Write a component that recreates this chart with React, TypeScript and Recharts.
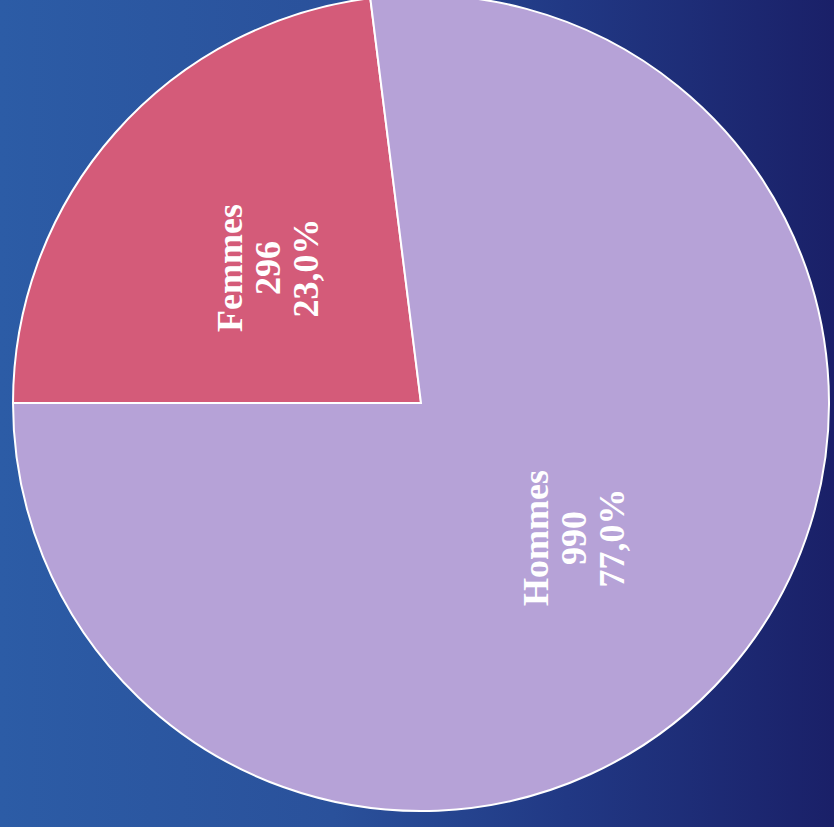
import { PieChart, Pie, Cell } from "recharts";

const categories = ["Femmes", "Hommes"];
const counts = [296, 990];
const percents = ["23,0%", "77,0%"];
const colors = ["#d45b79", "#b6a2d7"];

const data = categories.map((name, i) => ({
  name,
  value: counts[i],
  pct: percents[i],
}));

const RADIAN = Math.PI / 180;

const renderLabel = (props: any) => {
  const { cx, cy, midAngle, outerRadius, index } = props;
  const r = outerRadius * 0.5;
  const x = cx + r * Math.cos(-midAngle * RADIAN);
  const y = cy + r * Math.sin(-midAngle * RADIAN);
  const d = data[index];
  const lines = [d.name, String(d.value), d.pct];
  return (
    <text
      x={x}
      y={y}
      transform={`rotate(-90, ${x}, ${y})`}
      fill="#ffffff"
      textAnchor="middle"
      dominantBaseline="central"
      style={{
        fontFamily: "Liberation Serif, Times New Roman, serif",
        fontWeight: 700,
        fontSize: 36,
      }}
    >
      {lines.map((t, i) => (
        <tspan key={i} x={x} y={y + (i - 1) * 38}>
          {t}
        </tspan>
      ))}
    </text>
  );
};

export default function App() {
  return (
    <div
      style={{
        position: "absolute",
        left: 0,
        top: 0,
        width: 834,
        height: 827,
        overflow: "hidden",
        background:
          "linear-gradient(to right, #2c5ca6 0%, #2a519b 40%, #213884 68%, #1a2068 100%)",
      }}
    >
      <PieChart width={834} height={827}>
        <Pie
          data={data}
          dataKey="value"
          nameKey="name"
          cx={416}
          cy={398}
          outerRadius={408}
          startAngle={180}
          endAngle={-180}
          stroke="#ffffff"
          strokeWidth={2}
          label={renderLabel}
          labelLine={false}
          isAnimationActive={false}
        >
          {data.map((d, i) => (
            <Cell key={d.name} fill={colors[i]} />
          ))}
        </Pie>
      </PieChart>
    </div>
  );
}
